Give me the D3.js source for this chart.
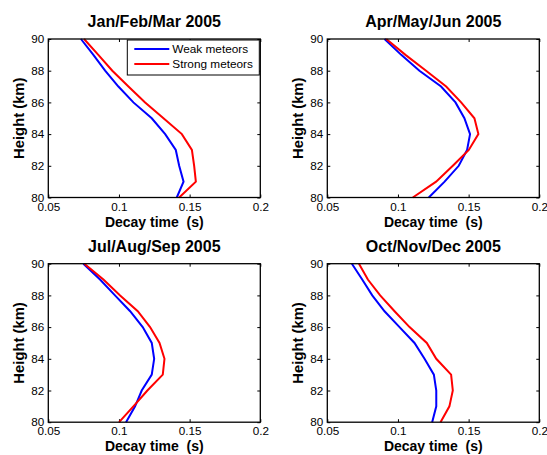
<!DOCTYPE html>
<html>
<head>
<meta charset="utf-8">
<script src="https://cdn.jsdelivr.net/npm/d3@7"></script>
<style>
    body { margin: 0; background: #fff; }
    #chartContainer { width: 547px; height: 455px; }
    text { font-family: "Liberation Sans", Arial, Helvetica, sans-serif; fill: #000; }
</style>
</head>
<body>
<div id="chartContainer"></div>
<script>
// heights (km) shared by every panel
var heights = [90, 89, 88, 87, 86, 85, 84, 83, 82, 81, 80];

var titles = ['Jan/Feb/Mar 2005', 'Apr/May/Jun 2005', 'Jul/Aug/Sep 2005', 'Oct/Nov/Dec 2005'];

// decay time (s) per height, weak and strong meteors, one array per quarter
var weakQ1 = [0.0731, 0.0819, 0.0902, 0.0996, 0.1102, 0.1232, 0.1327, 0.1402, 0.1426, 0.1457, 0.1409];
var strongQ1 = [0.0753, 0.0854, 0.0953, 0.1067, 0.1185, 0.1315, 0.1445, 0.1516, 0.1532, 0.1544, 0.1426];
var weakQ2 = [0.0905, 0.1023, 0.1152, 0.1305, 0.1407, 0.1470, 0.1510, 0.1489, 0.1430, 0.1330, 0.1218];
var strongQ2 = [0.0917, 0.1053, 0.1199, 0.1341, 0.1447, 0.1541, 0.1569, 0.1501, 0.1388, 0.1270, 0.1105];
var weakQ3 = [0.0748, 0.0866, 0.0972, 0.1079, 0.1168, 0.1232, 0.1249, 0.1232, 0.1161, 0.1114, 0.1050];
var strongQ3 = [0.0755, 0.0890, 0.1008, 0.1133, 0.1220, 0.1287, 0.1322, 0.1310, 0.1201, 0.1102, 0.1001];
var weakQ4 = [0.0674, 0.0747, 0.0818, 0.0905, 0.1011, 0.1117, 0.1188, 0.1254, 0.1271, 0.1271, 0.1242];
var strongQ4 = [0.0724, 0.0787, 0.0874, 0.0976, 0.1082, 0.1204, 0.1271, 0.1376, 0.1388, 0.1364, 0.1301];

var xTicks = [0.05, 0.1, 0.15, 0.2];
var yTicks = [80, 82, 84, 86, 88, 90];
var legendLabels = ['Weak meteors', 'Strong meteors'];

var weakSeries = [weakQ1, weakQ2, weakQ3, weakQ4],
    strongSeries = [strongQ1, strongQ2, strongQ3, strongQ4];

var drawPanels = function () {
    var width = 547,
        height = 455,
        plotw = 212,
        ploth = 158.5,
        lefts = [48.3, 327.3],
        tops = [39, 263.7],
        weakcolor = '#0000ff',
        strongcolor = '#ff0000',
        ticklen = 3;

    var chart = d3.select('#chartContainer').append('svg')
        .attr('width', width)
        .attr('height', height);

    var x = d3.scaleLinear().domain([0.05, 0.2]).range([0, plotw]),
        y = d3.scaleLinear().domain([80, 90]).range([ploth, 0]);

    var fmt = function (d) { return d3.format('')(+d.toFixed(2)); };

    var line = d3.line()
        .x(function (d) { return x(d[0]); })
        .y(function (d) { return y(d[1]); });

    titles.forEach(function (title, i) {
        var px = lefts[i % 2],
            py = tops[Math.floor(i / 2)];

        var panel = chart.append('g').attr('transform', 'translate(' + px + ',' + py + ')');

        panel.append('rect')
            .attr('width', plotw).attr('height', ploth)
            .attr('fill', '#fff');

        // bottom axis with tick labels, ticks pointing inward
        var bottom = panel.append('g').attr('transform', 'translate(0,' + ploth + ')')
            .call(d3.axisBottom(x).tickValues(xTicks).tickSize(-ticklen).tickPadding(6).tickFormat(fmt));
        var left = panel.append('g')
            .call(d3.axisLeft(y).tickValues(yTicks).tickSize(-ticklen).tickPadding(4).tickFormat(d3.format('d')));
        var topAx = panel.append('g')
            .call(d3.axisTop(x).tickValues(xTicks).tickSize(-ticklen).tickFormat(''));
        var rightAx = panel.append('g').attr('transform', 'translate(' + plotw + ',0)')
            .call(d3.axisRight(y).tickValues(yTicks).tickSize(-ticklen).tickFormat(''));

        [bottom, left, topAx, rightAx].forEach(function (ax) {
            ax.select('.domain').remove();
            ax.selectAll('line').attr('stroke', '#000').attr('stroke-width', 1);
            ax.selectAll('text').attr('font-size', '11.7px').attr('fill', '#000')
                .attr('font-family', '"Liberation Sans", Arial, sans-serif');
        });
        bottom.selectAll('text').attr('dy', '0.6em');

        var pts = function (arr) {
            return arr.map(function (v, k) { return [v, heights[k]]; });
        };

        panel.append('path')
            .attr('d', line(pts(weakSeries[i])))
            .attr('fill', 'none').attr('stroke', weakcolor).attr('stroke-width', 2);
        panel.append('path')
            .attr('d', line(pts(strongSeries[i])))
            .attr('fill', 'none').attr('stroke', strongcolor).attr('stroke-width', 2);

        // box
        panel.append('rect')
            .attr('width', plotw).attr('height', ploth)
            .attr('fill', 'none').attr('stroke', '#000').attr('stroke-width', 1.3);

        panel.append('text')
            .text(title)
            .attr('x', plotw / 2).attr('y', -12)
            .attr('text-anchor', 'middle')
            .attr('font-size', '16px').attr('font-weight', 'bold');

        panel.append('text')
            .text('Decay time  (s)')
            .attr('x', plotw / 2).attr('y', ploth + 29)
            .attr('text-anchor', 'middle')
            .attr('font-size', '14px').attr('font-weight', 'bold')
            .attr('xml:space', 'preserve').style('white-space', 'pre');

        panel.append('text')
            .text('Height (km)')
            .attr('transform', 'translate(-24,' + ploth / 2 + ') rotate(-90)')
            .attr('text-anchor', 'middle')
            .attr('font-size', '14.8px').attr('font-weight', 'bold');

        //legend only in the first panel
        if (i === 0) {
            var lg = panel.append('g').attr('transform', 'translate(79,1)');
            lg.append('rect')
                .attr('width', 132).attr('height', 35)
                .attr('fill', '#fff').attr('stroke', '#000').attr('stroke-width', 1);
            legendLabels.forEach(function (lab, k) {
                var ly = 9 + k * 15;
                lg.append('line')
                    .attr('x1', 7).attr('x2', 42).attr('y1', ly).attr('y2', ly)
                    .attr('stroke', k === 0 ? weakcolor : strongcolor).attr('stroke-width', 2);
                lg.append('text')
                    .text(lab)
                    .attr('x', 45).attr('y', ly + 4)
                    .attr('font-size', '11.8px');
            });
        }
    });
};

drawPanels();
</script>
</body>
</html>
